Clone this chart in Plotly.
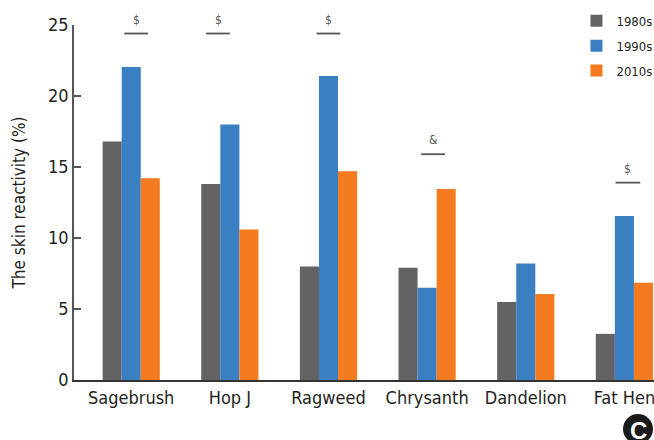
import plotly.graph_objects as go

categories = ["Sagebrush", "Hop J", "Ragweed", "Chrysanth", "Dandelion", "Fat Hen"]
vals_1980s = [16.8, 13.8, 8.0, 7.9, 5.5, 3.25]
vals_1990s = [22.05, 18.0, 21.4, 6.5, 8.2, 11.55]
vals_2010s = [14.2, 10.6, 14.7, 13.45, 6.05, 6.85]
series_names = ["1980s", "1990s", "2010s"]
colors = ["#636365", "#3a7fc1", "#f47b20"]

# significance marks: category index, symbol, bar height (%), horizontal offset of bar span
sig_cats = [0, 1, 2, 3, 5]
sig_symbols = ["$", "$", "$", "&", "$"]
sig_levels = [24.4, 24.4, 24.4, 15.9, 13.9]
sig_span = [(-0.07, 0.17), (-0.24, 0.0), (-0.12, 0.12), (-0.06, 0.18), (-0.09, 0.16)]

font_main = "DejaVu Sans Condensed, Liberation Sans Narrow, Arial Narrow, sans-serif"
text_col = "#231f20"

fig = go.Figure()
for name, vals, col in zip(series_names, [vals_1980s, vals_1990s, vals_2010s], colors):
    fig.add_trace(go.Bar(x=categories, y=vals, name=name, legendgroup=name,
                         marker=dict(color=col, line=dict(width=0))))

for ci, sym, lvl, (a, b) in zip(sig_cats, sig_symbols, sig_levels, sig_span):
    fig.add_shape(type="line", xref="x", yref="y", x0=ci + a, x1=ci + b, y0=lvl, y1=lvl,
                  line=dict(color="#555555", width=1.8))
    fig.add_annotation(x=ci + (a + b) / 2, y=lvl, xref="x", yref="y", text=sym, showarrow=False,
                       yshift=14, font=dict(family=font_main, size=12, color="#555555"))

# panel badge
pw, ph = 580, 355
fig.add_shape(type="circle", xref="paper", yref="paper", x0=549 / pw, x1=579 / pw,
              y0=-64 / ph, y1=-34 / ph, fillcolor="#1a1a1a", line=dict(width=0), layer="below")
fig.add_annotation(xref="paper", yref="paper", x=564 / pw, y=-50 / ph, text="<b>C</b>",
                   xanchor="center", yanchor="middle",
                   showarrow=False, font=dict(family="Liberation Sans, Arial, sans-serif", size=24, color="white"))

fig.update_layout(
    width=654, height=440,
    margin=dict(l=74, r=0, t=25, b=60, autoexpand=False),
    paper_bgcolor="white", plot_bgcolor="white",
    barmode="group", bargap=0.42, bargroupgap=0,
    font=dict(family=font_main, color=text_col),
    showlegend=True,
    legend=dict(x=1.006, y=1.054, xanchor="right", yanchor="top",
                bgcolor="rgba(0,0,0,0)", font=dict(size=13, color=text_col),
                itemwidth=30, tracegroupgap=5),
    xaxis=dict(range=[-0.58, 5.3], showline=True, linecolor="#333333", linewidth=2, tickangle=0,
               ticks="", tickfont=dict(size=18, color=text_col), showgrid=False, zeroline=False),
    yaxis=dict(range=[0, 25], tickvals=[0, 5, 10, 15, 20, 25], showline=True, linecolor="#555555",
               linewidth=1.5, ticks="inside", ticklen=7, tickcolor="#555555", tickwidth=1.5,
               tickfont=dict(size=18, color=text_col), showgrid=False, zeroline=False,
               title=dict(text="The skin reactivity (%)", font=dict(size=17, color=text_col), standoff=18)),
)

fig.write_html("out.html")
